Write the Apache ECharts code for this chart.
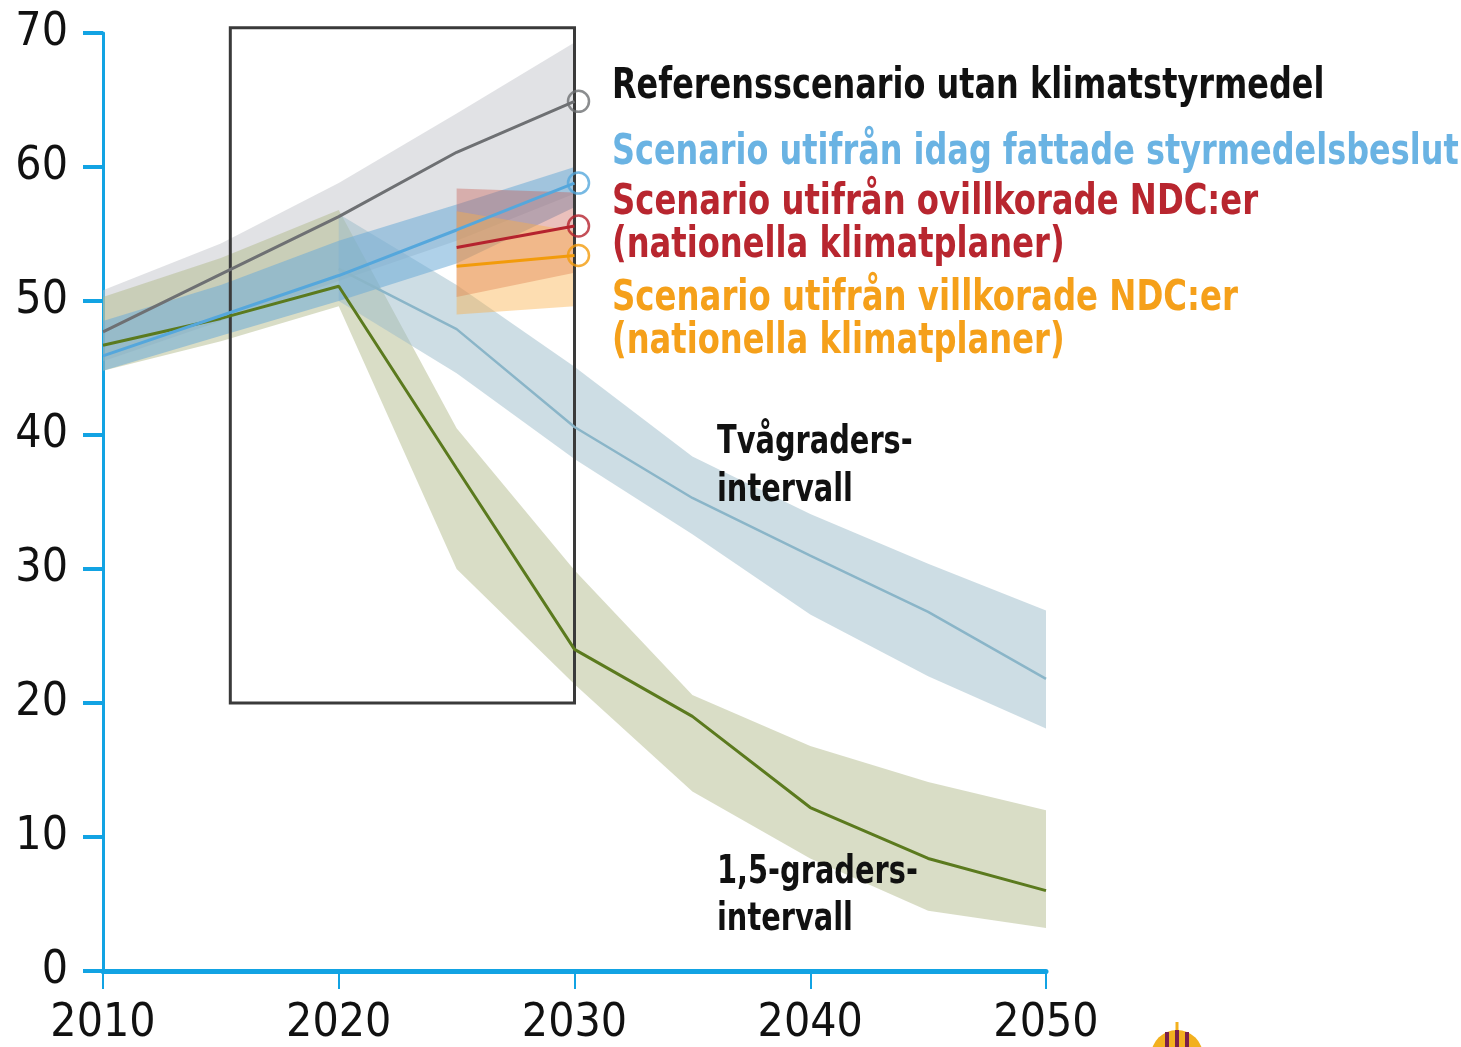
<!DOCTYPE html>
<html>
<head>
<meta charset="utf-8">
<script src="https://cdn.jsdelivr.net/npm/echarts@6/dist/echarts.min.js"></script>
<style>
html,body{margin:0;padding:0;background:#fff;}
#chart{width:1461px;height:1047px;}
</style>
</head>
<body>
<div id="chart"></div>
<script>
// ---------- data ----------
const xTickLabels = ['2010', '2020', '2030', '2040', '2050'];
const yTickLabels = ['0', '10', '20', '30', '40', '50', '60', '70'];

// Referensscenario (grey)
const refYears = [2010, 2015, 2020, 2025, 2030];
const refLine  = [47.7, 52.0, 56.3, 61.1, 64.9];
const refLow   = [45.5, 48.5, 51.5, 54.5, 58.0];
const refHigh  = [50.8, 54.3, 58.8, 64.0, 69.3];

// Scenario utifrån idag fattade styrmedelsbeslut (blue)
const polYears = [2010, 2015, 2020, 2025, 2030];
const polLine  = [45.9, 48.9, 51.9, 55.3, 58.8];
const polLow   = [44.8, 47.4, 50.0, 52.8, 57.0];
const polHigh  = [48.5, 51.2, 54.5, 57.2, 60.0];

// 1,5-gradersintervall (olive)
const g15Years = [2010, 2015, 2020, 2025, 2030, 2035, 2040, 2045, 2050];
const g15Line  = [46.7, 48.7, 51.1, 37.5, 24.0, 19.0, 12.2, 8.4, 6.0];
const g15Low   = [44.8, 47.0, 49.6, 30.0, 21.4, 13.4, 8.4, 4.5, 3.2];
const g15High  = [50.3, 53.2, 56.8, 40.5, 29.9, 20.6, 16.8, 14.1, 12.0];

// Tvågradersintervall (blue-grey)
const g2Years = [2020, 2025, 2030, 2035, 2040, 2045, 2050];
const g2Line  = [52.4, 47.9, 40.6, 35.3, 31.0, 26.8, 21.8];
const g2Low   = [50.0, 44.6, 38.2, 32.6, 26.6, 22.0, 18.1];
const g2High  = [56.5, 51.2, 45.1, 38.4, 34.1, 30.4, 26.9];

// Ovillkorade NDC:er (red)
const ndcYears = [2025, 2030];
const redLine  = [54.0, 55.6];
const redLow   = [50.3, 52.1];
const redHigh  = [58.4, 58.1];

// Villkorade NDC:er (orange)
const orLine   = [52.6, 53.4];
const orLow    = [49.0, 49.6];
const orHigh   = [56.7, 55.2];

// highlighted box
const boxYears  = [2015.4, 2030];
const boxValues = [20, 70.4];

// ---------- chart ----------
const FONT = '"Liberation Sans Narrow", "DejaVu Sans Condensed", sans-serif';
const AXIS = '#12a3e3';

function band(name, xs, lo, hi, color, z) {
  return {
    type: 'custom', name: name, z: z, silent: true,
    data: xs.map((x, i) => [x, lo[i], hi[i]]),
    encode: { x: 0, y: [1, 2] },
    renderItem: function (params, api) {
      if (params.dataIndex !== 0) return null;
      const top = xs.map((x, i) => api.coord([x, hi[i]]));
      const bot = xs.map((x, i) => api.coord([x, lo[i]])).reverse();
      return { type: 'polygon', shape: { points: top.concat(bot) }, style: { fill: color } };
    }
  };
}
function line(name, xs, vs, color, width, z) {
  return {
    type: 'line', name: name, z: z, silent: true,
    data: xs.map((x, i) => [x, vs[i]]),
    symbol: 'none', lineStyle: { color: color, width: width }
  };
}
function endMarker(name, xs, vs, color, z) {
  const n = xs.length - 1;
  return {
    type: 'scatter', name: name, z: z, silent: true,
    data: [[xs[n], vs[n]]],
    symbol: 'circle', symbolSize: 21, symbolOffset: [4, 0],
    itemStyle: { color: 'rgba(0,0,0,0)', borderColor: color, borderWidth: 2.5 }
  };
}

const chart = echarts.init(document.getElementById('chart'), null, { renderer: 'canvas' });

// annotation labels: text, x, y, colour, font size, horizontal scale
const texts = [
  { t: 'Referensscenario utan klimatstyrmedel', x: 612, y: 87, c: '#111111', s: 39, k: 0.91 },
  { t: 'Scenario utifrån idag fattade styrmedelsbeslut', x: 612, y: 153, c: '#6ab3e3', s: 39, k: 0.91 },
  { t: 'Scenario utifrån ovillkorade NDC:er', x: 612, y: 203, c: '#b8262f', s: 39, k: 0.92 },
  { t: '(nationella klimatplaner)', x: 612, y: 246, c: '#b8262f', s: 39, k: 0.917 },
  { t: 'Scenario utifrån villkorade NDC:er', x: 612, y: 299, c: '#f5a01a', s: 39, k: 0.923 },
  { t: '(nationella klimatplaner)', x: 612, y: 342, c: '#f5a01a', s: 39, k: 0.917 },
  { t: 'Tvågraders-', x: 717, y: 443, c: '#111111', s: 36, k: 0.89 },
  { t: 'intervall', x: 717, y: 491, c: '#111111', s: 36, k: 0.89 },
  { t: '1,5-graders-', x: 717, y: 873, c: '#111111', s: 36, k: 0.89 },
  { t: 'intervall', x: 717, y: 920, c: '#111111', s: 36, k: 0.89 }
];

const graphics = texts.map(o => ({
  type: 'text', x: o.x, y: o.y, scaleX: o.k, scaleY: 1.1, z: 100, silent: true,
  style: { text: o.t, fill: o.c, font: 'bold ' + o.s + 'px ' + FONT, verticalAlign: 'middle', align: 'left' }
}));
// partial emblem at the bottom edge
graphics.push({
  type: 'group', x: 1177, y: 1056, z: 100, silent: true,
  children: [
    { type: 'circle', shape: { cx: 0, cy: 0, r: 26 }, style: { fill: '#f2b01e' } },
    { type: 'line', shape: { x1: -10, y1: -24, x2: -10, y2: 0 }, style: { stroke: '#7a1f4a', lineWidth: 4 } },
    { type: 'line', shape: { x1: 0, y1: -26, x2: 0, y2: 0 }, style: { stroke: '#7a1f4a', lineWidth: 4 } },
    { type: 'line', shape: { x1: 10, y1: -24, x2: 10, y2: 0 }, style: { stroke: '#7a1f4a', lineWidth: 4 } },
    { type: 'line', shape: { x1: 0, y1: -34, x2: 0, y2: -26 }, style: { stroke: '#f2b01e', lineWidth: 3 } }
  ]
});

const option = {
  animation: false,
  backgroundColor: '#ffffff',
  grid: { left: 103, right: 415, top: 33, bottom: 74, containLabel: false },
  xAxis: {
    type: 'value', min: 2010, max: 2050, interval: 10,
    axisLine: { show: true, onZero: false, lineStyle: { color: AXIS, width: 5 } },
    axisTick: { show: true, length: 18, lineStyle: { color: AXIS, width: 2 } },
    axisLabel: {
      fontSize: 46, fontFamily: FONT, color: '#111', margin: 30,
      formatter: v => xTickLabels[Math.round((v - 2010) / 10)]
    },
    splitLine: { show: false }
  },
  yAxis: {
    type: 'value', min: 0, max: 70, interval: 10,
    axisLine: { show: true, lineStyle: { color: AXIS, width: 3 } },
    axisTick: { show: true, length: 20, lineStyle: { color: AXIS, width: 4 } },
    axisLabel: {
      fontSize: 46, fontFamily: FONT, color: '#111', margin: 35,
      formatter: v => yTickLabels[Math.round(v / 10)]
    },
    splitLine: { show: false }
  },
  series: [
    band('ref-band', refYears, refLow, refHigh, 'rgba(196,198,203,0.5)', 1),
    band('g15-band', g15Years, g15Low, g15High, 'rgba(176,183,135,0.48)', 2),
    band('g2-band', g2Years, g2Low, g2High, 'rgba(155,187,201,0.5)', 3),
    band('pol-band', polYears, polLow, polHigh, 'rgba(110,172,215,0.55)', 4),
    band('red-band', ndcYears, redLow, redHigh, 'rgba(200,90,80,0.38)', 5),
    band('or-band', ndcYears, orLow, orHigh, 'rgba(250,175,70,0.42)', 6),
    {
      type: 'custom', name: 'box', z: 7, silent: true, clip: false,
      data: [[boxYears[0], boxValues[0], boxYears[1], boxValues[1]]],
      encode: { x: [0, 2], y: [1, 3] },
      renderItem: function (params, api) {
        const p0 = api.coord([boxYears[0], boxValues[1]]);
        const p1 = api.coord([boxYears[1], boxValues[0]]);
        return {
          type: 'rect',
          shape: { x: p0[0], y: p0[1], width: p1[0] - p0[0], height: p1[1] - p0[1] },
          style: { fill: 'none', stroke: '#3a3a3a', lineWidth: 3 }
        };
      }
    },
    line('g2', g2Years, g2Line, '#8ab5c8', 2.5, 10),
    line('g15', g15Years, g15Line, '#5b7a1e', 3, 11),
    line('ref', refYears, refLine, '#6e7073', 3, 12),
    line('pol', polYears, polLine, '#55a7dc', 3, 13),
    line('red', ndcYears, redLine, '#b5232e', 3, 14),
    line('or', ndcYears, orLine, '#f29b0b', 3, 15),
    endMarker('ref-m', refYears, refLine, '#6e7073', 16),
    endMarker('pol-m', polYears, polLine, '#55a7dc', 16),
    endMarker('red-m', ndcYears, redLine, '#b5232e', 16),
    endMarker('or-m', ndcYears, orLine, '#f29b0b', 16)
  ],
  graphic: graphics
};
chart.setOption(option);
</script>
</body>
</html>
